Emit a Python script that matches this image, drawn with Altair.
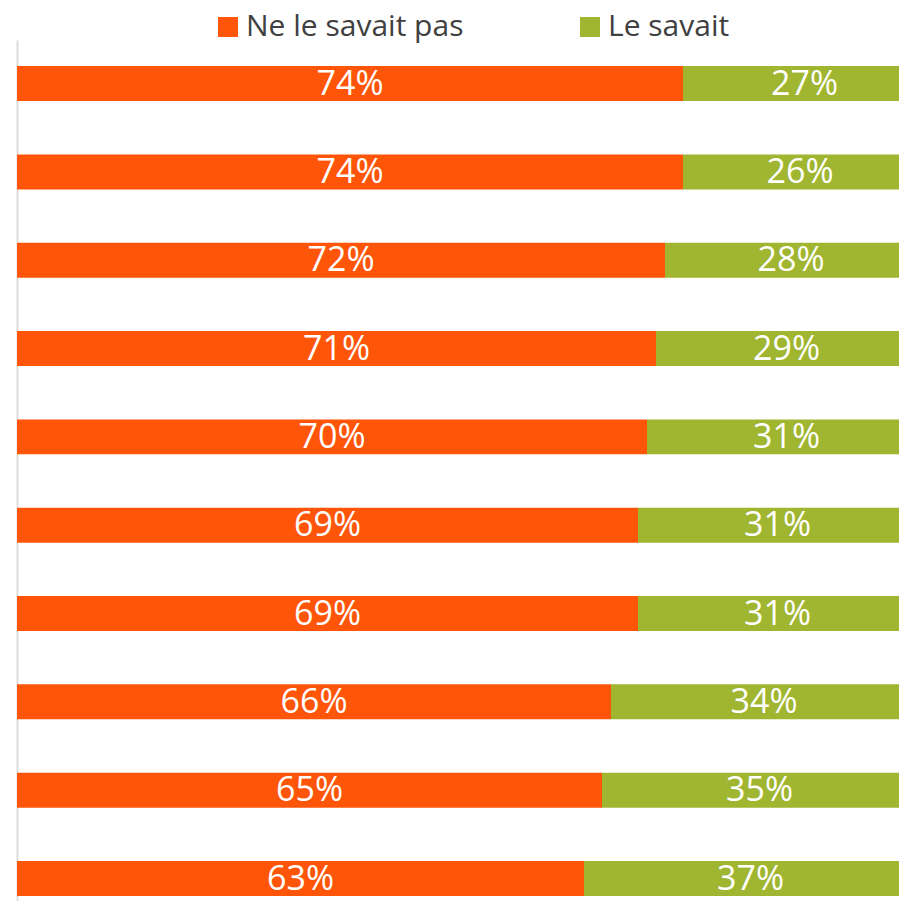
import altair as alt
import pandas as pd

# Data
rows = ["1", "2", "3", "4", "5", "6", "7", "8", "9", "10"]
ne_savait_pas = [74, 74, 72, 71, 70, 69, 69, 66, 65, 63]
le_savait = [27, 26, 28, 29, 31, 31, 31, 34, 35, 37]
series = ["Ne le savait pas", "Le savait"]
colors = ["#FF5508", "#A0B530"]

records = []
for i, r in enumerate(rows):
    records.append({"row": r, "serie": series[0], "order": 0, "value": ne_savait_pas[i]})
    records.append({"row": r, "serie": series[1], "order": 1, "value": le_savait[i]})
df = pd.DataFrame(records)

FONT = "Open Sans"

base = alt.Chart(df).transform_stack(
    stack="value", groupby=["row"], as_=["v0", "v1"],
    sort=[alt.SortField("order", order="ascending")]
).transform_calculate(
    mid="(datum.v0 + datum.v1) / 2",
    label="datum.value + '%'"
)

# only the left part of the 0..100 % scale is visible (the rest runs off the page)
x_scale = alt.Scale(domain=[0, 98.0], nice=False, zero=True)
y_scale = alt.Scale(paddingInner=0.604, paddingOuter=0.176, align=0.839)

y_enc = alt.Y(
    "row:N", sort=rows, title=None, scale=y_scale,
    axis=alt.Axis(labels=False, ticks=False, domain=True,
                  domainColor="#DDDDDD", domainWidth=2, grid=False, title=None),
)

bars = base.mark_bar(clip=True).encode(
    x=alt.X("v0:Q", scale=x_scale, axis=None),
    x2="v1:Q",
    y=y_enc,
    color=alt.Color(
        "serie:N",
        scale=alt.Scale(domain=series, range=colors),
        sort=series,
        legend=alt.Legend(
            title=None, orient="none", direction="horizontal",
            legendX=196, legendY=-28,
            symbolType="square", symbolSize=400, symbolStrokeWidth=0,
            labelFontSize=30, labelFont=FONT, labelColor="#404040",
            labelOffset=3, columnPadding=111, labelLimit=400,
        ),
    ),
    order=alt.Order("order:Q"),
)

texts = base.mark_text(color="white", fontSize=34, font=FONT, align="center", baseline="middle", dy=1).encode(
    x=alt.X("mid:Q"),
    y=alt.Y("row:N", sort=rows),
    text="label:N",
)

chart = alt.layer(bars, texts).properties(
    width=882, height=861,
    autosize=alt.AutoSizeParams(type="none"),
    padding={"left": 9, "top": 32, "right": 0, "bottom": 0},
).configure_view(stroke=None)

chart.save("out.html", embed_options={"renderer": "svg", "actions": False})
